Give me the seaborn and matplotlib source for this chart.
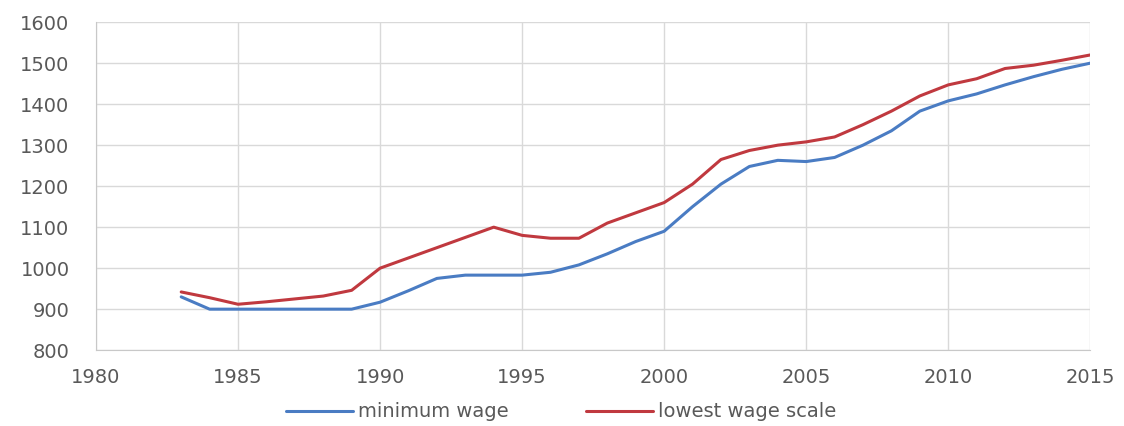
import pandas as pd
import seaborn as sns
from matplotlib import pyplot as plt

years = list(range(1983, 2016))
minimum_wage = [930, 900, 900, 900, 900, 900, 900, 917, 945, 975, 983, 983, 983, 990, 1008,
                1035, 1065, 1090, 1150, 1205, 1248, 1263, 1260, 1270, 1300, 1335, 1383, 1408,
                1425, 1447, 1467, 1485, 1500]
lowest_scale = [942, 928, 912, 918, 925, 932, 946, 1000, 1025, 1050, 1075, 1100, 1080, 1073, 1073,
                1110, 1135, 1160, 1205, 1265, 1287, 1300, 1308, 1320, 1350, 1383, 1420, 1447,
                1462, 1487, 1495, 1507, 1520]

df = pd.DataFrame({'year': years * 2,
                   'value': minimum_wage + lowest_scale,
                   'series': ['minimum wage'] * len(years) + ['lowest wage scale'] * len(years)})

sns.set_style('white')
plt.rcParams['font.family'] = ['DejaVu Sans']

fig, ax = plt.subplots(figsize=(11.24, 4.26), dpi=100)
fig.subplots_adjust(left=0.0854, right=0.970, top=0.948, bottom=0.178)

sns.lineplot(data=df, x='year', y='value', hue='series',
             palette={'minimum wage': '#4a7cc3', 'lowest wage scale': '#c0393f'},
             linewidth=2.2, ax=ax)

ax.set_xlim(1980, 2015)
ax.set_ylim(800, 1600)
ax.set_xticks(range(1980, 2016, 5))
ax.set_yticks(range(800, 1601, 100))
ax.grid(True, color='#d9d9d9', linewidth=1)
ax.tick_params(axis='both', labelsize=14, colors='#595959', length=0)
ax.tick_params(axis='y', pad=19)
ax.tick_params(axis='x', pad=13)
ax.set_xlabel('')
ax.set_ylabel('')
for side in ['top', 'right']:
    ax.spines[side].set_visible(False)
for side in ['left', 'bottom']:
    ax.spines[side].set_color('#c8c8c8')

leg = ax.legend(loc='center', bbox_to_anchor=(0.499, 0.033), bbox_transform=fig.transFigure,
                ncol=2, frameon=False, fontsize=14, handlelength=3.45,
                columnspacing=4.0, handletextpad=0.25)
for t in leg.get_texts():
    t.set_color('#595959')

plt.savefig('out.png', dpi=100)
